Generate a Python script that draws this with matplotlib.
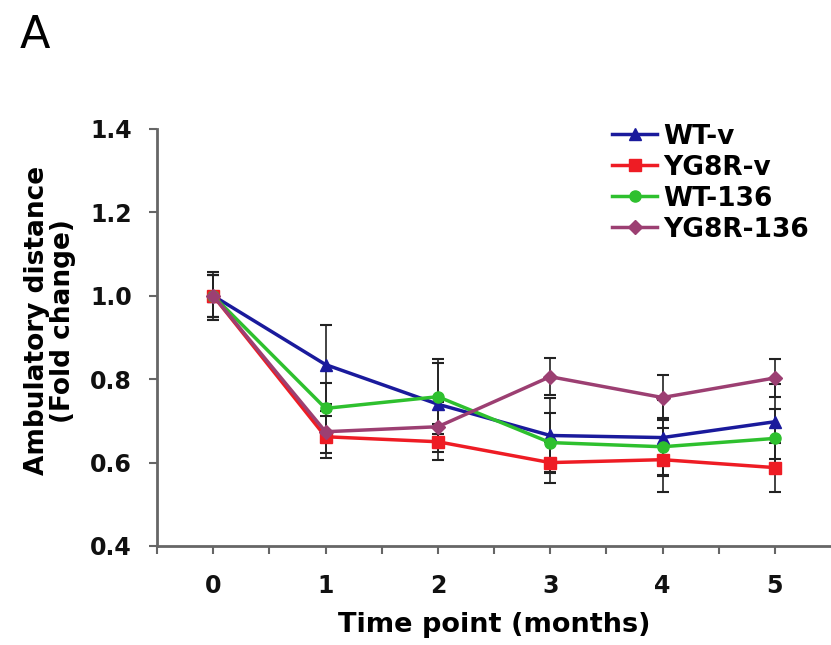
import matplotlib.pyplot as plt

plt.rcParams['font.family'] = ['DejaVu Sans']

months = [0, 1, 2, 3, 4, 5]

wt_v = [1.0, 0.835, 0.74, 0.665, 0.66, 0.698]
yg8r_v = [1.0, 0.662, 0.65, 0.60, 0.607, 0.588]
wt_136 = [1.0, 0.73, 0.758, 0.648, 0.638, 0.658]
yg8r_136 = [1.0, 0.674, 0.686, 0.806, 0.756, 0.803]

wt_v_err = [0.05, 0.095, 0.10, 0.09, 0.09, 0.09]
yg8r_v_err = [0.05, 0.05, 0.043, 0.05, 0.077, 0.058]
wt_136_err = [0.05, 0.06, 0.09, 0.07, 0.07, 0.07]
yg8r_136_err = [0.058, 0.05, 0.06, 0.045, 0.055, 0.045]

fig = plt.figure(figsize=(8.31, 6.45), dpi=100)
ax = fig.add_axes([0.189, 0.1535, 0.811, 0.6465])

series = [
    ('WT-v', wt_v, wt_v_err, '#1a1a9c', '^'),
    ('YG8R-v', yg8r_v, yg8r_v_err, '#ee1c24', 's'),
    ('WT-136', wt_136, wt_136_err, '#2ec02e', 'o'),
    ('YG8R-136', yg8r_136, yg8r_136_err, '#9c3f72', 'D'),
]
for name, vals, err, col, mk in series:
    ax.errorbar(months, vals, yerr=err, ecolor='#222222', elinewidth=1.2,
                capsize=4, capthick=1.5, fmt='none', zorder=2)
    ax.plot(months, vals, color=col, marker=mk, markersize=8 if mk != 'D' else 7,
            linewidth=2.5, label=name, zorder=3)

ax.set_xlim(-0.5, 5.5)
ax.set_ylim(0.4, 1.4)
ax.set_yticks([0.4, 0.6, 0.8, 1.0, 1.2, 1.4])
ax.set_yticklabels(['0.4', '0.6', '0.8', '1.0', '1.2', '1.4'])
ax.set_xticks(months)
ax.set_xticks([-0.5, 0.5, 1.5, 2.5, 3.5, 4.5], minor=True)

for s in ['top', 'right']:
    ax.spines[s].set_visible(False)
for s in ['left', 'bottom']:
    ax.spines[s].set_color('#666666')
    ax.spines[s].set_linewidth(2)

ax.tick_params(axis='both', which='both', colors='#666666', width=1.5, length=6,
               labelsize=17, labelcolor='#111111')
ax.tick_params(axis='x', which='both', pad=14)
ax.tick_params(axis='y', pad=12)
for lbl in ax.get_xticklabels() + ax.get_yticklabels():
    lbl.set_fontweight('bold')

ax.set_xlabel('Time point (months)', fontsize=19.5, fontweight='bold', labelpad=10)
ax.set_ylabel('Ambulatory distance\n(Fold change)', fontsize=19, fontweight='bold',
              linespacing=1.0)
ax.yaxis.set_label_coords(-0.12, 0.54)

leg = ax.legend(loc='upper left', bbox_to_anchor=(0.64, 1.07), frameon=False,
                prop={'weight': 'bold', 'size': 19}, handlelength=1.7,
                handletextpad=0.25, labelspacing=0.19)

fig.text(0.024, 0.925, 'A', fontsize=32)

fig.savefig('out.png', dpi=100)
